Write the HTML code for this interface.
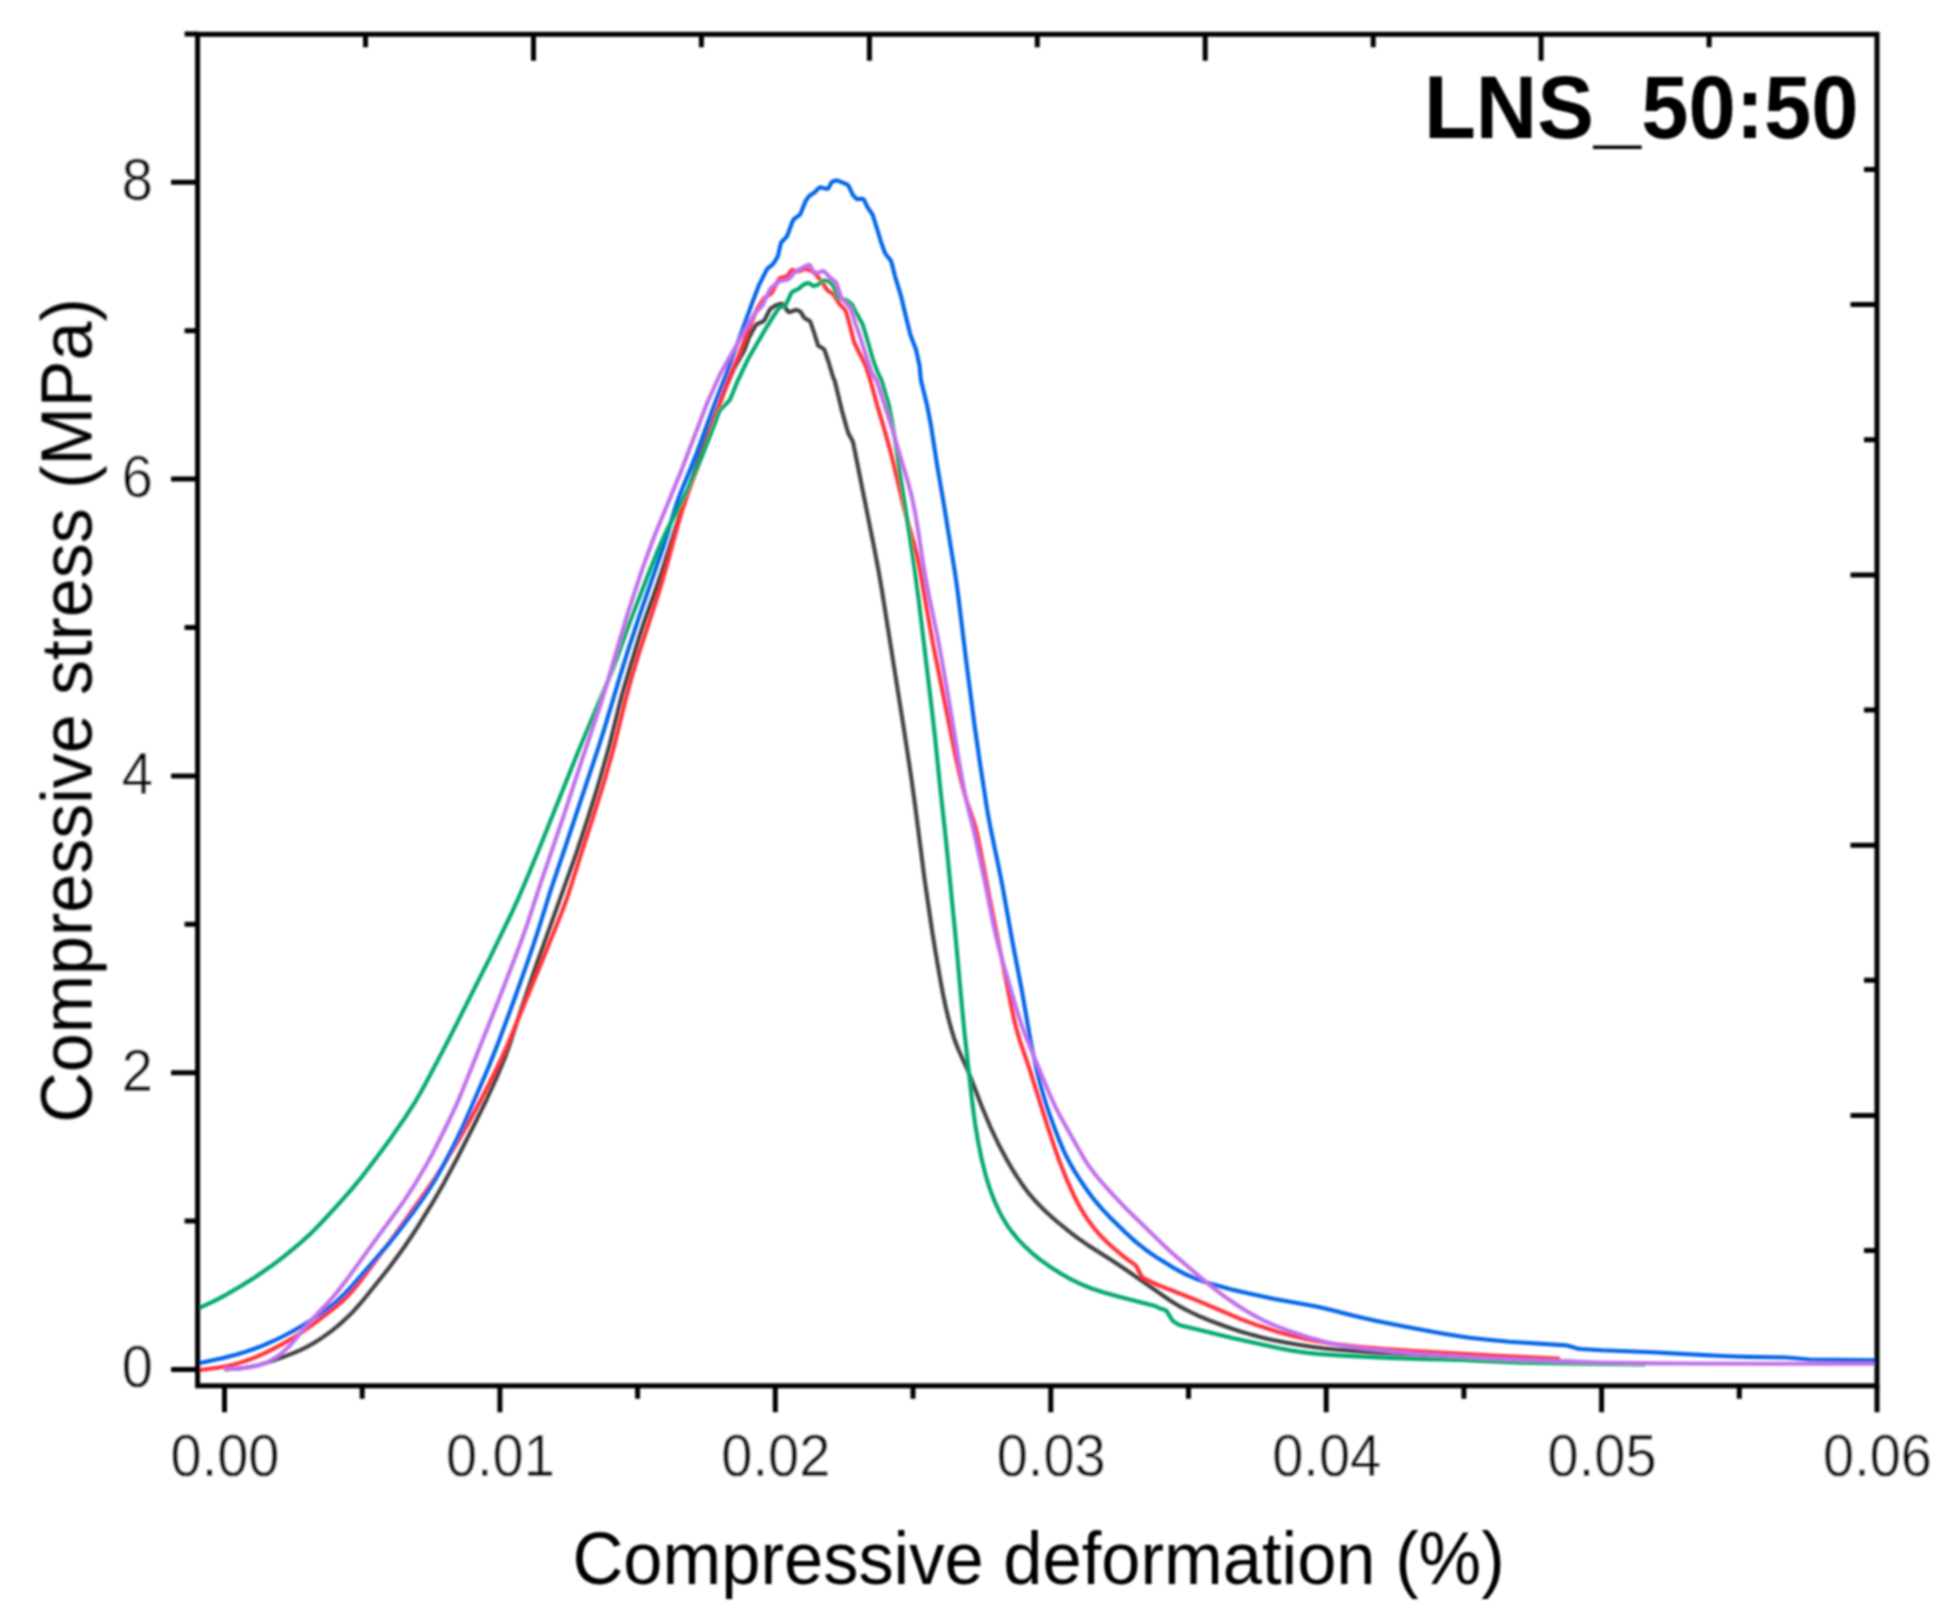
<!DOCTYPE html>
<html><head><meta charset="utf-8"><title>LNS_50:50</title>
<style>html,body{margin:0;padding:0;background:#fff}svg{display:block}text{font-family:"Liberation Sans",Arial,sans-serif;fill:#000}.tk{stroke:#fff;stroke-width:0.35px}</style>
</head><body>
<svg width="1950" height="1622" viewBox="0 0 1950 1622">
<defs><filter id="soft" x="0" y="0" width="1950" height="1622" filterUnits="userSpaceOnUse"><feGaussianBlur stdDeviation="0.9"/></filter><clipPath id="cp"><rect x="197.6" y="34.3" width="1679.4" height="1351.5"/></clipPath></defs>
<rect width="1950" height="1622" fill="#fff"/>
<g filter="url(#soft)">
<g clip-path="url(#cp)"><path d="M224.6 1369.5 L235.6 1368.7 L243.5 1367.9 L250.3 1366.8 L257.1 1365.4 L263.8 1363.6 L272.4 1360.8 L283.6 1356.8 L293.9 1352.8 L300.3 1350.1 L306.5 1347.1 L312.6 1343.7 L318.6 1340.1 L325.1 1335.6 L331.6 1330.9 L337.8 1325.9 L343.8 1320.6 L348.9 1315.8 L354.4 1310.1 L359.7 1304.2 L365.5 1297.3 L387.9 1269.2 L396.3 1258.0 L403.9 1247.5 L410.7 1237.5 L417.8 1226.7 L432.0 1203.7 L444.0 1182.9 L457.2 1158.3 L472.2 1128.8 L485.9 1101.0 L497.1 1076.5 L504.8 1058.0 L509.6 1044.9 L520.7 1010.7 L534.9 969.0 L574.7 857.9 L581.4 838.0 L588.2 817.1 L595.4 794.2 L601.1 775.0 L610.0 743.2 L618.8 707.3 L622.3 693.8 L629.6 668.8 L639.2 637.2 L645.1 619.2 L656.9 586.2 L662.3 570.1 L679.8 514.8 L689.0 487.3 L700.6 454.3 L714.6 416.8 L726.1 386.9 L733.2 370.4 L734.5 367.7 L744.3 350.2 L745.1 348.4 L748.7 338.0 L755.4 325.8 L756.7 324.3 L757.5 323.8 L762.1 321.9 L763.7 320.9 L764.8 319.4 L769.3 310.5 L770.4 308.9 L771.2 308.2 L776.3 305.1 L780.1 304.0 L781.9 303.8 L782.7 304.1 L783.3 304.7 L787.2 310.5 L788.4 311.8 L789.1 312.1 L790.0 312.0 L794.6 310.3 L796.4 309.9 L798.2 310.5 L800.0 311.4 L801.3 312.8 L803.2 316.3 L804.3 317.8 L805.0 318.4 L809.4 320.8 L810.1 321.4 L810.5 322.2 L814.4 333.6 L817.9 345.0 L818.4 345.7 L819.2 346.3 L823.4 348.7 L824.1 349.4 L824.9 351.1 L828.7 362.5 L833.0 376.9 L834.9 381.5 L841.9 410.6 L847.8 431.8 L849.0 434.6 L852.4 440.7 L853.1 442.5 L874.5 549.4 L878.6 571.0 L881.8 589.7 L903.9 729.0 L911.4 778.5 L915.2 806.2 L924.6 879.6 L931.7 928.1 L935.3 950.8 L940.6 981.4 L943.4 996.1 L946.1 1008.8 L948.7 1019.5 L951.3 1029.1 L953.6 1036.7 L955.9 1043.2 L958.8 1050.5 L968.5 1072.0 L981.8 1106.5 L990.3 1126.8 L998.4 1144.0 L1006.8 1159.8 L1011.3 1167.6 L1016.6 1176.1 L1021.0 1182.7 L1025.6 1189.2 L1029.9 1194.7 L1034.5 1200.0 L1039.2 1205.0 L1044.9 1210.7 L1050.7 1216.1 L1057.5 1222.0 L1071.5 1233.3 L1079.5 1239.3 L1086.9 1244.4 L1111.3 1260.0 L1123.0 1267.7 L1170.5 1300.8 L1177.3 1305.0 L1183.3 1308.4 L1190.4 1312.0 L1198.6 1315.8 L1208.7 1320.1 L1218.9 1324.0 L1229.3 1327.8 L1239.7 1331.2 L1251.2 1334.6 L1261.9 1337.4 L1272.6 1339.9 L1284.3 1342.3 L1297.1 1344.5 L1310.0 1346.5 L1322.9 1348.2 L1335.8 1349.5 L1353.7 1350.9 L1378.7 1352.6 L1439.6 1355.8 L1484.5 1358.4 L1517.5 1359.9 L1578.5 1362.0" fill="none" stroke="#404040" stroke-width="4.1" stroke-linejoin="round" stroke-linecap="butt"/>
<path d="M197.7 1370.2 L209.6 1368.8 L218.5 1367.6 L226.3 1366.2 L234.1 1364.4 L242.7 1361.9 L250.2 1359.3 L257.6 1356.4 L265.8 1352.6 L275.6 1347.7 L285.2 1342.5 L293.8 1337.4 L302.2 1332.0 L312.0 1325.1 L325.5 1314.9 L335.7 1306.9 L342.5 1301.1 L347.5 1296.2 L352.8 1290.4 L357.9 1284.3 L364.6 1275.6 L391.5 1239.5 L423.5 1194.8 L434.8 1178.3 L445.7 1161.5 L458.1 1141.0 L469.0 1121.9 L479.5 1102.5 L489.1 1083.9 L498.8 1064.2 L505.9 1048.7 L543.3 958.2 L560.5 915.5 L567.2 897.7 L570.9 886.3 L580.5 855.8 L593.5 815.9 L604.2 781.5 L610.0 761.3 L614.5 744.9 L625.2 701.2 L632.0 676.1 L639.3 652.2 L654.6 605.7 L660.6 586.6 L667.1 564.5 L677.9 525.0 L682.1 510.6 L688.2 492.6 L700.3 459.8 L707.1 441.0 L719.3 405.0 L727.6 381.4 L739.0 354.7 L756.1 311.0 L757.5 308.4 L763.4 299.1 L764.7 297.7 L770.6 294.0 L772.0 292.6 L778.3 280.2 L779.4 278.6 L780.1 278.0 L785.8 276.6 L786.7 276.3 L788.0 275.0 L790.9 270.9 L791.5 270.3 L792.2 270.0 L793.0 270.0 L796.8 271.3 L797.7 271.4 L799.6 271.1 L804.2 269.3 L806.1 269.1 L807.9 269.6 L811.6 271.1 L813.2 272.2 L816.2 274.8 L822.5 282.6 L826.7 289.4 L828.1 290.8 L832.3 293.5 L833.7 294.8 L839.6 304.1 L844.4 309.1 L845.6 310.7 L846.3 312.5 L850.0 326.0 L854.2 342.5 L865.7 365.8 L870.3 380.0 L877.4 406.1 L884.0 428.1 L889.1 446.4 L893.8 464.8 L903.9 507.6 L907.3 520.2 L914.0 543.2 L917.1 555.8 L920.1 570.5 L929.5 624.6 L933.7 647.3 L955.3 755.1 L959.6 774.6 L963.5 790.1 L966.6 800.6 L974.0 822.2 L975.9 828.9 L977.5 835.6 L979.9 847.4 L989.1 895.5 L1010.1 1000.4 L1013.8 1018.0 L1016.3 1028.7 L1020.0 1041.1 L1030.0 1070.4 L1040.4 1103.8 L1048.3 1128.6 L1054.9 1148.5 L1060.3 1163.5 L1067.4 1181.2 L1074.0 1195.7 L1077.6 1202.8 L1081.0 1208.9 L1084.6 1214.8 L1087.9 1219.8 L1092.6 1226.2 L1097.0 1231.6 L1101.7 1236.8 L1106.6 1241.7 L1113.2 1247.8 L1122.3 1255.5 L1127.0 1259.1 L1135.2 1264.9 L1135.9 1265.6 L1136.9 1267.3 L1141.4 1276.1 L1142.0 1276.9 L1143.5 1278.1 L1153.4 1283.0 L1158.9 1285.4 L1197.0 1300.3 L1229.1 1314.2 L1240.2 1318.8 L1258.9 1325.8 L1277.0 1331.6 L1286.6 1334.3 L1297.3 1337.0 L1308.0 1339.4 L1318.8 1341.5 L1327.6 1343.0 L1337.5 1344.4 L1361.4 1347.0 L1385.3 1349.1 L1418.2 1351.2 L1498.1 1355.8 L1560.0 1358.8" fill="none" stroke="#ff3038" stroke-width="4.1" stroke-linejoin="round" stroke-linecap="butt"/>
<path d="M197.7 1363.5 L222.1 1358.2 L237.6 1354.2 L245.2 1351.9 L253.7 1349.0 L262.1 1345.8 L269.5 1342.7 L277.6 1339.0 L285.7 1335.0 L293.6 1330.8 L301.4 1326.2 L309.8 1320.9 L318.1 1315.4 L326.2 1309.5 L332.5 1304.7 L337.8 1300.2 L342.2 1296.1 L347.1 1291.2 L352.5 1285.3 L381.5 1252.2 L389.9 1242.3 L397.4 1232.9 L412.6 1213.1 L424.7 1196.0 L430.2 1187.6 L435.0 1180.0 L444.3 1163.5 L454.0 1144.9 L462.7 1126.8 L468.8 1113.1 L487.3 1070.0 L493.0 1056.1 L498.8 1041.2 L508.6 1015.0 L517.1 991.5 L526.8 964.1 L533.9 943.3 L539.2 927.1 L550.8 889.9 L566.8 842.5 L598.7 746.7 L605.0 726.7 L619.8 676.8 L628.1 650.1 L639.4 615.9 L663.3 546.9 L666.9 535.5 L673.5 513.5 L676.5 504.0 L681.0 491.8 L691.3 466.9 L697.5 451.0 L715.3 402.2 L726.6 373.3 L751.5 304.7 L759.0 285.1 L766.6 269.8 L767.8 268.3 L773.2 263.9 L776.9 258.0 L778.1 255.3 L780.5 244.6 L781.1 242.7 L782.3 241.2 L785.8 237.6 L787.0 236.1 L787.8 234.3 L792.6 221.2 L793.6 219.5 L795.0 218.2 L799.1 215.4 L800.4 214.0 L805.2 201.9 L806.2 200.2 L807.9 197.7 L809.8 195.5 L814.8 192.3 L818.1 188.6 L819.6 187.5 L820.4 187.4 L821.4 187.5 L826.2 188.8 L827.1 188.9 L827.8 188.7 L828.4 188.2 L828.9 187.4 L830.7 183.8 L831.8 182.2 L833.3 181.2 L836.1 180.4 L837.0 180.5 L838.9 181.1 L846.3 184.1 L847.9 185.1 L848.9 186.7 L852.8 194.8 L856.0 198.5 L856.8 199.0 L857.7 199.1 L861.6 198.8 L862.5 198.8 L863.3 199.1 L864.3 200.5 L867.3 206.9 L871.8 213.5 L872.7 215.2 L876.4 226.6 L881.0 241.9 L884.7 252.3 L885.6 254.0 L890.6 260.3 L891.4 262.1 L895.1 276.6 L901.2 296.7 L905.8 316.2 L910.1 333.6 L911.0 336.5 L916.0 349.6 L919.5 365.2 L920.8 379.1 L921.1 381.1 L926.9 404.4 L930.9 425.0 L937.0 464.5 L943.8 503.9 L955.5 576.0 L958.1 594.8 L966.1 660.3 L974.6 725.7 L979.7 761.4 L987.0 808.8 L990.8 829.5 L999.2 869.6 L1002.5 886.3 L1012.2 940.4 L1022.0 991.5 L1030.4 1039.8 L1034.1 1058.4 L1036.7 1070.1 L1039.9 1082.7 L1042.8 1093.3 L1046.0 1103.8 L1049.8 1115.2 L1054.6 1128.3 L1059.3 1140.4 L1063.2 1149.6 L1066.6 1156.8 L1070.3 1163.9 L1074.8 1171.6 L1079.6 1179.2 L1085.2 1187.5 L1090.4 1194.8 L1096.0 1201.9 L1101.1 1207.9 L1111.4 1218.8 L1125.7 1232.8 L1136.1 1242.1 L1145.4 1249.5 L1151.1 1253.6 L1158.6 1258.6 L1173.8 1268.0 L1179.9 1271.4 L1185.2 1274.1 L1196.2 1278.8 L1205.6 1282.2 L1216.1 1285.3 L1231.5 1289.4 L1249.0 1293.6 L1274.5 1298.9 L1306.9 1304.7 L1317.7 1306.8 L1328.4 1309.3 L1350.7 1315.0 L1363.3 1318.1 L1378.0 1321.2 L1404.4 1326.6 L1423.1 1330.1 L1443.8 1333.8 L1457.6 1336.0 L1469.5 1337.7 L1488.3 1339.8 L1509.3 1341.7 L1566.1 1345.4 L1569.0 1346.0 L1577.7 1348.6 L1580.6 1349.0 L1601.6 1350.3 L1652.5 1352.2 L1700.5 1354.9 L1728.4 1356.3 L1748.4 1356.9 L1786.4 1357.5 L1809.3 1359.5 L1877.3 1360.4" fill="none" stroke="#0064e8" stroke-width="4.1" stroke-linejoin="round" stroke-linecap="butt"/>
<path d="M197.7 1308.6 L214.0 1301.1 L226.4 1294.6 L240.2 1286.6 L255.4 1277.0 L270.2 1266.8 L283.8 1256.6 L297.7 1245.2 L310.4 1233.9 L321.6 1222.5 L338.5 1204.1 L351.1 1189.9 L361.9 1176.7 L375.9 1158.5 L390.1 1139.2 L404.9 1117.8 L414.7 1102.7 L420.2 1093.3 L426.9 1081.0 L442.8 1050.9 L454.2 1028.6 L491.1 955.4 L512.4 911.3 L519.0 896.8 L527.7 876.5 L541.4 843.3 L577.9 752.3 L611.6 672.1 L617.0 658.1 L626.6 630.8 L631.5 617.6 L650.3 569.2 L657.4 551.5 L662.1 540.5 L666.3 531.4 L670.8 522.5 L683.3 498.6 L687.6 489.6 L691.7 480.5 L697.2 467.7 L702.5 454.7 L715.3 422.2 L719.0 411.8 L720.7 409.4 L729.0 400.9 L730.2 399.3 L737.7 380.8 L748.5 358.2 L765.6 328.8 L773.0 316.9 L778.5 308.6 L779.9 307.3 L784.6 305.9 L785.3 305.4 L785.9 304.7 L790.9 293.8 L791.9 292.2 L793.5 291.2 L798.0 289.2 L804.2 284.2 L807.0 283.2 L808.8 283.1 L809.6 283.4 L812.7 285.7 L813.6 286.0 L814.4 285.9 L817.2 285.0 L819.0 284.1 L822.5 280.8 L823.3 280.6 L824.2 280.5 L827.2 280.9 L829.0 281.5 L830.5 282.8 L832.5 284.9 L833.6 286.5 L837.2 295.9 L838.1 297.5 L838.8 298.0 L839.7 298.3 L845.5 299.7 L847.2 300.7 L849.6 302.5 L851.8 304.4 L852.8 306.1 L856.9 314.1 L862.3 323.7 L863.3 326.5 L866.8 338.0 L873.4 361.0 L878.0 373.2 L881.1 379.5 L881.8 381.4 L888.4 403.4 L889.3 407.3 L892.3 423.0 L894.1 433.8 L899.9 473.4 L908.9 530.7 L914.9 571.3 L918.6 599.0 L931.1 703.3 L934.9 736.1 L940.2 787.8 L946.1 841.5 L955.5 936.0 L961.6 1002.7 L964.6 1033.6 L972.0 1100.2 L975.1 1124.0 L978.1 1141.7 L981.9 1160.3 L985.8 1175.8 L990.0 1189.1 L994.5 1201.2 L999.6 1212.1 L1002.4 1217.3 L1005.4 1222.4 L1008.1 1226.6 L1011.6 1231.4 L1017.9 1239.1 L1024.7 1246.3 L1032.0 1253.1 L1039.7 1259.3 L1050.3 1266.9 L1061.2 1273.8 L1071.6 1279.7 L1081.5 1284.4 L1091.6 1288.5 L1103.0 1292.2 L1119.3 1296.8 L1153.1 1305.4 L1155.0 1306.0 L1160.4 1308.6 L1165.2 1309.9 L1166.0 1310.4 L1166.6 1311.0 L1172.3 1320.4 L1173.8 1321.6 L1175.5 1322.7 L1178.9 1324.7 L1180.8 1325.4 L1193.5 1328.4 L1232.3 1337.9 L1279.1 1348.2 L1288.9 1350.1 L1297.8 1351.5 L1307.7 1352.9 L1317.6 1353.9 L1342.5 1355.6 L1387.5 1357.9 L1411.5 1358.8 L1460.5 1360.0 L1503.4 1362.0 L1522.4 1362.7 L1578.4 1363.8 L1645.4 1364.5" fill="none" stroke="#00a86c" stroke-width="4.1" stroke-linejoin="round" stroke-linecap="butt"/>
<path d="M223.8 1369.2 L237.8 1368.6 L246.7 1367.7 L254.4 1366.4 L262.0 1364.3 L265.6 1362.9 L269.1 1361.3 L275.9 1357.4 L282.2 1352.8 L288.7 1346.8 L294.7 1340.2 L306.0 1326.3 L311.2 1320.3 L327.7 1302.9 L333.0 1297.0 L338.7 1290.1 L346.0 1280.6 L377.7 1236.9 L397.3 1210.3 L404.2 1200.6 L411.4 1189.7 L419.2 1177.0 L425.8 1165.7 L432.1 1154.4 L440.3 1138.3 L449.5 1119.5 L455.9 1105.9 L461.4 1093.1 L498.9 999.3 L512.3 964.8 L521.8 939.5 L527.8 922.5 L539.6 886.4 L562.8 818.3 L582.8 757.4 L600.3 705.3 L605.7 688.1 L618.3 644.9 L627.2 615.2 L633.9 594.3 L642.1 569.6 L648.2 552.7 L654.5 535.8 L681.5 470.1 L707.9 401.0 L719.5 375.5 L721.3 372.0 L731.6 353.7 L754.1 314.6 L755.2 313.0 L761.5 306.6 L762.7 305.0 L769.4 290.5 L770.4 288.8 L771.8 287.4 L778.7 281.7 L780.5 280.9 L786.3 279.9 L788.2 279.3 L789.7 278.2 L794.1 272.8 L795.6 271.5 L807.1 265.4 L808.7 264.7 L809.4 264.8 L810.0 265.3 L812.7 270.5 L814.0 271.8 L815.8 272.6 L817.7 273.0 L819.5 272.4 L822.1 271.1 L822.9 270.8 L823.6 271.0 L825.0 272.2 L829.0 276.6 L835.9 282.3 L836.8 284.0 L841.0 297.3 L842.1 298.9 L845.6 302.5 L849.5 307.0 L851.2 309.5 L855.1 322.9 L859.6 335.1 L865.8 355.1 L871.5 372.2 L872.3 374.0 L876.2 379.8 L877.3 382.6 L891.1 425.4 L908.2 482.9 L912.2 498.4 L915.3 514.0 L917.7 527.8 L923.1 563.4 L925.6 578.2 L928.8 594.9 L937.2 635.1 L940.5 652.7 L949.0 701.0 L959.6 765.1 L963.0 783.8 L965.5 796.6 L967.9 807.3 L973.5 829.5 L976.6 843.1 L984.3 879.3 L993.8 926.4 L997.4 942.0 L1002.6 961.2 L1017.2 1011.2 L1021.1 1023.5 L1024.1 1032.0 L1027.3 1040.4 L1049.1 1093.0 L1055.7 1107.6 L1062.7 1120.8 L1082.3 1155.6 L1086.5 1162.4 L1090.4 1168.1 L1095.8 1175.2 L1102.9 1183.6 L1112.9 1194.7 L1123.2 1205.6 L1132.4 1214.8 L1161.8 1243.4 L1174.3 1254.9 L1200.1 1277.0 L1213.2 1287.8 L1225.1 1296.9 L1235.8 1304.3 L1246.8 1311.2 L1257.1 1317.1 L1266.0 1321.7 L1275.1 1325.7 L1289.1 1330.9 L1308.1 1337.1 L1321.5 1341.0 L1334.2 1344.0 L1346.9 1346.3 L1364.7 1348.7 L1394.6 1351.9 L1419.5 1354.1 L1488.4 1358.2 L1518.3 1359.6 L1565.3 1361.4 L1601.3 1362.5 L1658.3 1363.4 L1762.3 1363.8 L1877.3 1363.8" fill="none" stroke="#c070ea" stroke-width="4.1" stroke-linejoin="round" stroke-linecap="butt"/>
</g>
<rect x="197.6" y="34.3" width="1679.4" height="1351.5" fill="none" stroke="#000" stroke-width="5.0"/>
<path d="M224.5 1385.8v26.5 M362.2 1385.8v13 M499.9 1385.8v26.5 M637.6 1385.8v13 M775.3 1385.8v26.5 M913.0 1385.8v13 M1050.8 1385.8v26.5 M1188.5 1385.8v13 M1326.2 1385.8v26.5 M1463.9 1385.8v13 M1601.6 1385.8v26.5 M1739.3 1385.8v13 M1877.0 1385.8v26.5 M365.5 34.3v13 M533.5 34.3v26.5 M701.4 34.3v13 M869.4 34.3v26.5 M1037.3 34.3v13 M1205.2 34.3v26.5 M1373.2 34.3v13 M1541.1 34.3v26.5 M1709.1 34.3v13 M197.6 1369.5h-26.5 M197.6 1221.1h-13 M197.6 1072.7h-26.5 M197.6 924.3h-13 M197.6 775.9h-26.5 M197.6 627.5h-13 M197.6 479.1h-26.5 M197.6 330.7h-13 M197.6 182.3h-26.5 M197.6 33.9h-13 M1877 169.4h-13 M1877 304.6h-26.5 M1877 439.8h-13 M1877 574.9h-26.5 M1877 710.0h-13 M1877 845.2h-26.5 M1877 980.3h-13 M1877 1115.5h-26.5 M1877 1250.6h-13" fill="none" stroke="#000" stroke-width="5.0"/>
<text transform="translate(225.0 1476.0) scale(1 1.045)" text-anchor="middle" font-size="56" class="tk">0.00</text>
<text transform="translate(500.4 1476.0) scale(1 1.045)" text-anchor="middle" font-size="56" class="tk">0.01</text>
<text transform="translate(775.8 1476.0) scale(1 1.045)" text-anchor="middle" font-size="56" class="tk">0.02</text>
<text transform="translate(1051.2 1476.0) scale(1 1.045)" text-anchor="middle" font-size="56" class="tk">0.03</text>
<text transform="translate(1326.7 1476.0) scale(1 1.045)" text-anchor="middle" font-size="56" class="tk">0.04</text>
<text transform="translate(1602.1 1476.0) scale(1 1.045)" text-anchor="middle" font-size="56" class="tk">0.05</text>
<text transform="translate(1877.5 1476.0) scale(1 1.045)" text-anchor="middle" font-size="56" class="tk">0.06</text>
<text transform="translate(153.0 1387.3) scale(1 1.045)" text-anchor="end" font-size="56" class="tk">0</text>
<text transform="translate(153.0 1090.5) scale(1 1.045)" text-anchor="end" font-size="56" class="tk">2</text>
<text transform="translate(153.0 793.7) scale(1 1.045)" text-anchor="end" font-size="56" class="tk">4</text>
<text transform="translate(153.0 496.9) scale(1 1.045)" text-anchor="end" font-size="56" class="tk">6</text>
<text transform="translate(153.0 200.1) scale(1 1.045)" text-anchor="end" font-size="56" class="tk">8</text>
<text transform="translate(1038.6 1584.0) scale(1 1.045)" text-anchor="middle" font-size="70.5">Compressive deformation (%)</text>
<text transform="translate(91.5 710.5) rotate(-90) scale(1 1.045)" text-anchor="middle" font-size="70.0">Compressive stress (MPa)</text>
<text transform="translate(1858.5 137.5) scale(1 1.045)" text-anchor="end" font-size="85" font-weight="bold">LNS_50:50</text>
</g>
</svg>
</body></html>
